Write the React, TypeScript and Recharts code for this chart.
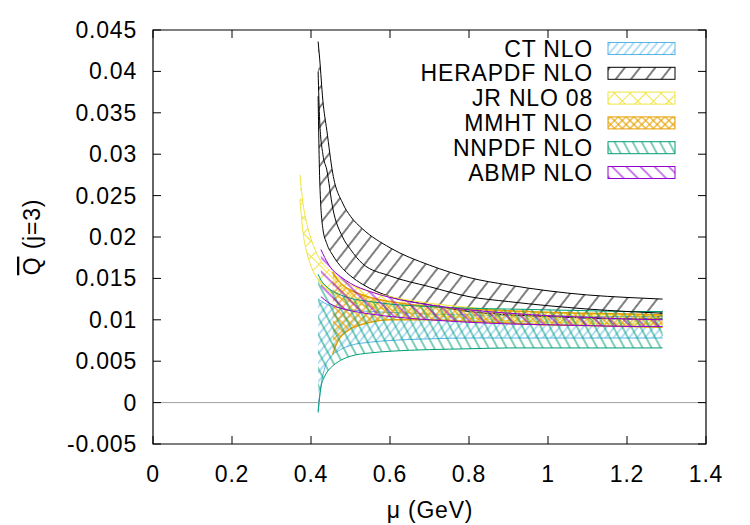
import { ComposedChart, Area, Line, XAxis, YAxis, ReferenceLine, ReferenceArea } from 'recharts';

// PDF bands of Qbar(j=3) vs mu
const ctMu = [0.418, 0.425, 0.435, 0.45, 0.475, 0.5, 0.55, 0.6, 0.7, 0.8, 0.9, 1.0, 1.1, 1.2, 1.29];
const ctLow = [-0.001, 0.002, 0.0042, 0.0055, 0.0064, 0.0069, 0.0073, 0.0075, 0.0077, 0.0078, 0.0078, 0.0078, 0.0078, 0.0078, 0.0078];
const ctHigh = [0.0125, 0.0123, 0.012, 0.0117, 0.0114, 0.0112, 0.011, 0.0109, 0.0107, 0.0106, 0.0105, 0.0105, 0.0104, 0.0104, 0.0104];

const heraMu = [0.418, 0.422, 0.43, 0.44, 0.455, 0.48, 0.5, 0.53, 0.6, 0.7, 0.8, 0.9, 1.0, 1.1, 1.2, 1.29];
const heraLow = [0.037, 0.027, 0.021, 0.0192, 0.0178, 0.0162, 0.0153, 0.0143, 0.0128, 0.0118, 0.011, 0.0106, 0.0104, 0.0102, 0.0101, 0.0101];
const heraMid = [0.04, 0.034, 0.03, 0.0281, 0.0235, 0.02, 0.0185, 0.0168, 0.0153, 0.014, 0.0128, 0.0122, 0.0117, 0.0113, 0.011, 0.0108];
const heraHigh = [0.0436, 0.0415, 0.0365, 0.0329, 0.0277, 0.0241, 0.0225, 0.021, 0.0187, 0.0166, 0.0151, 0.0142, 0.0135, 0.013, 0.0127, 0.0125];

const jrMu = [0.372, 0.38, 0.39, 0.4, 0.42, 0.45, 0.5, 0.55, 0.6, 0.7, 0.8, 0.9, 1.0, 1.1, 1.2, 1.29];
const jrLow = [0.0245, 0.0205, 0.018, 0.0165, 0.0147, 0.0133, 0.0122, 0.0116, 0.0112, 0.0106, 0.0102, 0.0099, 0.0097, 0.0096, 0.0095, 0.0095];
const jrHigh = [0.0275, 0.024, 0.0215, 0.0198, 0.0175, 0.0158, 0.0142, 0.0134, 0.0128, 0.012, 0.0115, 0.0111, 0.0109, 0.0107, 0.0106, 0.0105];

const mmhtMu = [0.455, 0.462, 0.47, 0.48, 0.5, 0.55, 0.6, 0.7, 0.8, 0.9, 1.0, 1.1, 1.2, 1.29];
const mmhtLow = [0.0058, 0.0068, 0.0076, 0.0082, 0.0089, 0.0097, 0.01, 0.01, 0.0098, 0.0096, 0.0094, 0.0093, 0.0092, 0.0091];
const mmhtHigh = [0.0158, 0.0152, 0.0147, 0.0142, 0.0136, 0.0127, 0.0122, 0.0116, 0.0113, 0.0111, 0.0109, 0.0108, 0.0107, 0.0106];

const nnpdfMu = [0.418, 0.425, 0.435, 0.45, 0.475, 0.5, 0.55, 0.6, 0.7, 0.8, 0.9, 1.0, 1.1, 1.2, 1.29];
const nnpdfLow = [-0.0012, 0.0018, 0.0032, 0.0042, 0.0051, 0.0056, 0.006, 0.0062, 0.0064, 0.0065, 0.0066, 0.0066, 0.0066, 0.0066, 0.0066];
const nnpdfHigh = [0.0155, 0.0148, 0.0142, 0.0136, 0.013, 0.0126, 0.0122, 0.0119, 0.0116, 0.0114, 0.0113, 0.0112, 0.0111, 0.011, 0.011];

const abmpMu = [0.425, 0.435, 0.45, 0.475, 0.5, 0.55, 0.6, 0.7, 0.8, 0.9, 1.0, 1.1, 1.2, 1.29];
const abmpLow = [0.0128, 0.0124, 0.0119, 0.0114, 0.0111, 0.0107, 0.0104, 0.01, 0.0097, 0.0095, 0.0094, 0.0093, 0.0092, 0.0092];
const abmpHigh = [0.0185, 0.0175, 0.0163, 0.0152, 0.0144, 0.0134, 0.0127, 0.0118, 0.0112, 0.0108, 0.0105, 0.0103, 0.0101, 0.01];

const xTicks = [0, 0.2, 0.4, 0.6, 0.8, 1, 1.2, 1.4];
const yTicks = [-0.005, 0, 0.005, 0.01, 0.015, 0.02, 0.025, 0.03, 0.035, 0.04, 0.045];

const FONT = '"Liberation Sans", Arial, Helvetica, sans-serif';
const FS = 23;
const LS = 0.8;
const PLOT_L = 153, PLOT_R = 706, PLOT_T = 30, PLOT_B = 444;
const TICK = 8;

const band = (mu: number[], lo: number[], hi: number[]) =>
    mu.map((m, i) => ({ mu: m, range: [lo[i], hi[i]] }));

const series = [
    { name: 'CT NLO', color: '#56b4e9', pat: 'hatch-ct', data: band(ctMu, ctLow, ctHigh) },
    { name: 'HERAPDF NLO', color: '#000000', pat: 'hatch-hera', data: band(heraMu, heraLow, heraHigh) },
    { name: 'JR NLO 08', color: '#f0e442', pat: 'hatch-jr', data: band(jrMu, jrLow, jrHigh) },
    { name: 'MMHT NLO', color: '#e69f00', pat: 'hatch-mmht', data: band(mmhtMu, mmhtLow, mmhtHigh) },
    { name: 'NNPDF NLO', color: '#009e73', pat: 'hatch-nnpdf', data: band(nnpdfMu, nnpdfLow, nnpdfHigh) },
    { name: 'ABMP NLO', color: '#9400d3', pat: 'hatch-abmp', data: band(abmpMu, abmpLow, abmpHigh) },
];

const heraMidData = heraMu.map((m, i) => ({ mu: m, mid: heraMid[i] }));

// hatch pattern: a vertical line rotated by angle, optional cross line
function Hatch({ id, color, size, angle, width = 1, cross = false, opacity = 1 }: any) {
    return (
        <pattern id={id} patternUnits="userSpaceOnUse" width={size} height={size} patternTransform={`rotate(${angle})`}>
            <line x1={size / 2} y1={0} x2={size / 2} y2={size} stroke={color} strokeWidth={width} strokeOpacity={opacity} />
            {cross && <line x1={0} y1={size / 2} x2={size} y2={size / 2} stroke={color} strokeWidth={width} strokeOpacity={opacity} />}
        </pattern>
    );
}

function XTick({ x, payload }: any) {
    return (
        <g>
            <line x1={x} y1={PLOT_B} x2={x} y2={PLOT_B - TICK} stroke="#000" />
            <line x1={x} y1={PLOT_T} x2={x} y2={PLOT_T + TICK} stroke="#000" />
            <text x={x} y={474} textAnchor="middle" dominantBaseline="central" fontSize={FS} fontFamily={FONT} fill="#000" letterSpacing={LS}>
                {String(payload.value)}
            </text>
        </g>
    );
}

function YTick({ y, payload }: any) {
    return (
        <g>
            <line x1={PLOT_L} y1={y} x2={PLOT_L + TICK} y2={y} stroke="#000" />
            <line x1={PLOT_R - TICK} y1={y} x2={PLOT_R} y2={y} stroke="#000" />
            <text x={137} y={y} textAnchor="end" dominantBaseline="central" fontSize={FS} fontFamily={FONT} fill="#000" letterSpacing={LS}>
                {String(payload.value)}
            </text>
        </g>
    );
}

function YTitle() {
    return (
        <text transform="translate(32,237) rotate(-90)" textAnchor="middle" dominantBaseline="central" fontSize={FS} fontFamily={FONT} fill="#000" letterSpacing={LS}>
            <tspan style={{ textDecoration: 'overline' }}>Q</tspan> (j=3)
        </text>
    );
}

function XTitle() {
    return (
        <text x={430} y={510} textAnchor="middle" dominantBaseline="central" fontSize={FS} fontFamily={FONT} fill="#000" letterSpacing={LS}>
            μ (GeV)
        </text>
    );
}

export default function App() {
    return (
        <div style={{ position: 'absolute', left: 0, top: 0, width: 750, height: 525, background: '#fff' }}>
            <ComposedChart width={750} height={525} margin={{ top: PLOT_T, right: 750 - PLOT_R, bottom: 0, left: 0 }}>
                <XAxis
                    dataKey="mu"
                    type="number"
                    domain={[0, 1.4]}
                    ticks={xTicks}
                    allowDataOverflow
                    axisLine={false}
                    tickLine={false}
                    height={525 - PLOT_B}
                    tick={<XTick />}
                    label={<XTitle />}
                />
                <YAxis
                    type="number"
                    domain={[-0.005, 0.045]}
                    ticks={yTicks}
                    allowDataOverflow
                    axisLine={false}
                    tickLine={false}
                    width={PLOT_L}
                    tick={<YTick />}
                    label={<YTitle />}
                />
                <ReferenceLine y={0} stroke="#a0a0a0" strokeWidth={1} />

                {series.map(s => (
                    <Area
                        key={s.name}
                        data={s.data}
                        dataKey="range"
                        name={s.name}
                        type="monotone"
                        stroke={s.color}
                        strokeWidth={s.pat === 'hatch-mmht' ? 1.5 : 1}
                        fill={`url(#${s.pat})`}
                        fillOpacity={1}
                        dot={false}
                        activeDot={false}
                        isAnimationActive={false}
                    />
                ))}
                <Line
                    data={heraMidData}
                    dataKey="mid"
                    type="monotone"
                    stroke="#000"
                    strokeWidth={1}
                    dot={false}
                    activeDot={false}
                    isAnimationActive={false}
                />

                <ReferenceArea x1={0} x2={1.4} y1={-0.005} y2={0.045} fill="none" stroke="#000" strokeWidth={1.2} ifOverflow="visible" />
            </ComposedChart>

            <svg width={750} height={525} style={{ position: 'absolute', left: 0, top: 0, pointerEvents: 'none' }}>
                <defs>
                    <Hatch id="hatch-ct" color="#56b4e9" size={6} angle={40} width={0.9} />
                    <Hatch id="hatch-hera" color="#000" size={12} angle={38} />
                    <Hatch id="hatch-jr" color="#f0e442" size={11} angle={45} cross />
                    <Hatch id="hatch-mmht" color="#e69f00" size={5.5} angle={45} cross width={1.1} />
                    <Hatch id="hatch-nnpdf" color="#009e73" size={8} angle={-28} />
                    <Hatch id="hatch-abmp" color="#9400d3" size={10} angle={-45} />
                </defs>
                {series.map((s, i) => {
                    const cy = 48.5 + i * 24.8;
                    return (
                        <g key={s.name}>
                            <text x={593} y={cy} textAnchor="end" dominantBaseline="central" fontSize={FS} fontFamily={FONT} fill="#000" letterSpacing={LS}>
                                {s.name}
                            </text>
                            <rect x={608} y={cy - 6} width={67} height={12} fill={`url(#${s.pat})`} stroke={s.color} strokeWidth={1} />
                        </g>
                    );
                })}
            </svg>
        </div>
    );
}
